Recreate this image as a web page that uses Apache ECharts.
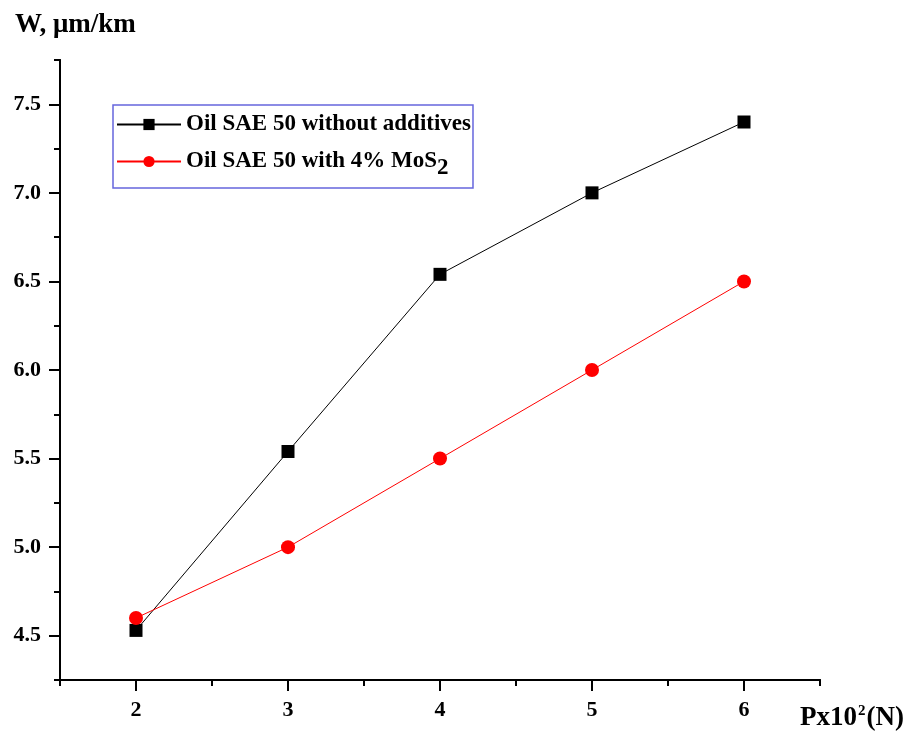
<!DOCTYPE html>
<html><head><meta charset="utf-8">
<script src="https://cdn.jsdelivr.net/npm/echarts@6/dist/echarts.min.js"></script>
<style>html,body{margin:0;padding:0;background:#fff}#c{width:915px;height:735px}</style>
</head><body><div id="c"></div>
<script>
const loads = [2, 3, 4, 5, 6];
const withoutAdditives = [4.53, 5.54, 6.54, 7.0, 7.4];
const withMoS2 = [4.6, 5.0, 5.5, 6.0, 6.5];
const yMajorTicks = [4.5, 5.0, 5.5, 6.0, 6.5, 7.0, 7.5];
const xMajorTicks = [2, 3, 4, 5, 6];
const seriesNames = ['Oil SAE 50 without additives', 'Oil SAE 50 with 4% MoS2'];

const font = 'Liberation Serif, Times New Roman, serif';
const chart = echarts.init(document.getElementById('c'));
const axisBase = {
  axisLine: {show: true, onZero: false, lineStyle: {color: '#000', width: 2}},
  splitLine: {show: false}
};
chart.setOption({
  animation: false,
  title: {text: 'W, μm/km', left: 10, top: 7,
    textStyle: {fontFamily: font, fontWeight: 'bold', fontSize: 27, color: '#000'}},
  legend: {
    left: 113, top: 105, orient: 'vertical', padding: [8, 2, 8, 3], itemGap: 14,
    itemWidth: 64, itemHeight: 14,
    backgroundColor: '#fff', borderColor: '#6666dd', borderWidth: 1.5, borderRadius: 0,
    data: seriesNames,
    formatter: function (n) { return n === seriesNames[1] ? 'Oil SAE 50 with 4% MoS{sub|2}' : n; },
    textStyle: {fontFamily: font, fontWeight: 'bold', fontSize: 23, color: '#000',
      rich: {sub: {fontFamily: font, fontWeight: 'bold', fontSize: 23, color: '#000', verticalAlign: 'bottom', padding: [14, 0, 0, 0]}}}
  },
  grid: {left: 60, right: 95, top: 60, bottom: 55, containLabel: false},
  xAxis: [
    Object.assign({type: 'value', min: 1.5, max: 6.5, interval: 0.5, position: 'bottom',
      axisTick: {show: true, inside: false, length: 11, lineStyle: {width: 2, color: '#000'}, customValues: xMajorTicks},
      axisLabel: {customValues: xMajorTicks, margin: 19, fontFamily: font, fontWeight: 'bold', fontSize: 22, color: '#000'},
      name: 'Px10{sup|2}(N)', nameLocation: 'end', nameGap: 0,
      nameTextStyle: {fontFamily: font, fontWeight: 'bold', fontSize: 27, color: '#000', align: 'left', verticalAlign: 'top', padding: [24, 0, 0, -20],
        rich: {sup: {fontFamily: font, fontWeight: 'bold', fontSize: 15, color: '#000', verticalAlign: 'top', padding: [0, 1, 14, 1]}}}
    }, axisBase),
    Object.assign({type: 'value', min: 1.5, max: 6.5, interval: 0.5, position: 'bottom',
      axisTick: {show: true, inside: false, length: 6, lineStyle: {width: 2, color: '#000'}},
      axisLabel: {show: false}}, axisBase)
  ],
  yAxis: [
    Object.assign({type: 'value', min: 4.25, max: 7.75, interval: 0.25, position: 'left',
      axisTick: {show: true, inside: false, length: 11, lineStyle: {width: 2, color: '#000'}, customValues: yMajorTicks},
      axisLabel: {customValues: yMajorTicks, margin: 19, fontFamily: font, fontWeight: 'bold', fontSize: 22, color: '#000',
        formatter: v => v.toFixed(1)}
    }, axisBase),
    Object.assign({type: 'value', min: 4.25, max: 7.75, interval: 0.25, position: 'left',
      axisTick: {show: true, inside: false, length: 6, lineStyle: {width: 2, color: '#000'}},
      axisLabel: {show: false}}, axisBase)
  ],
  series: [
    {name: seriesNames[0], type: 'line', data: loads.map((x, i) => [x, withoutAdditives[i]]),
      symbol: 'rect', symbolSize: 13, lineStyle: {color: '#000', width: 1}, itemStyle: {color: '#000'}},
    {name: seriesNames[1], type: 'line', data: loads.map((x, i) => [x, withMoS2[i]]),
      symbol: 'circle', symbolSize: 14, lineStyle: {color: '#ff0000', width: 1}, itemStyle: {color: '#ff0000'}}
  ]
});
</script></body></html>
